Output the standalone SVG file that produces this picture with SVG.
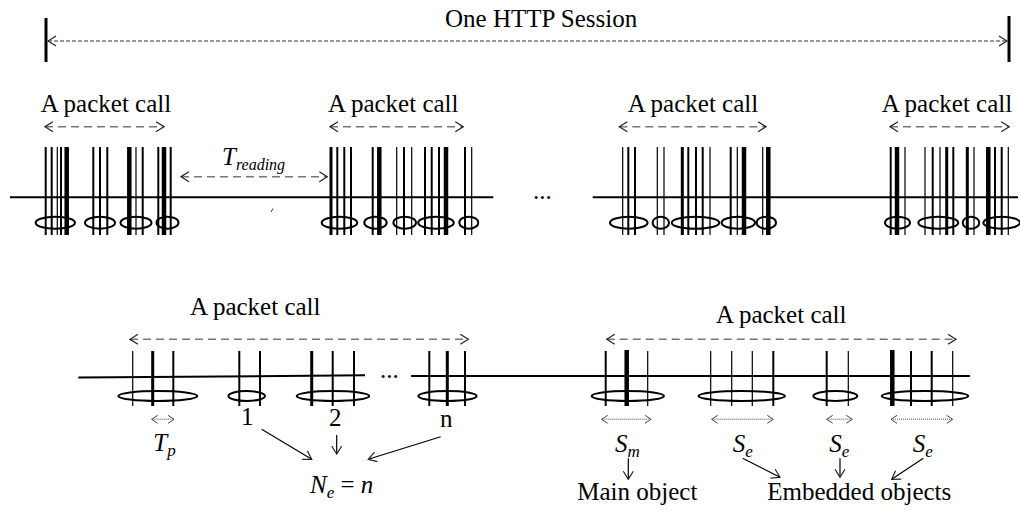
<svg xmlns="http://www.w3.org/2000/svg" width="1020" height="511" viewBox="0 0 1020 511">
  <defs>
    <marker id="head" viewBox="0 0 10 12" refX="9" refY="6" markerWidth="10" markerHeight="12" markerUnits="userSpaceOnUse" orient="auto-start-reverse">
      <path d="M1,1 L9,6 L1,11" fill="none" stroke="#222" stroke-width="1.2"/>
    </marker>
    <marker id="headSmall" viewBox="0 0 8 10" refX="7" refY="5" markerWidth="8" markerHeight="10" markerUnits="userSpaceOnUse" orient="auto-start-reverse">
      <path d="M1,1 L7,5 L1,9" fill="none" stroke="#444" stroke-width="1"/>
    </marker>
  </defs>
  <style>
    .txt { font-family: "Liberation Serif", "Times New Roman", serif; font-size: 25px; fill: #000; }
    .it { font-style: italic; }
    .axis { stroke: #000; stroke-width: 2; fill: none; }
    .b1 { stroke: #000; stroke-width: 1.2; }
    .b2 { stroke: #000; stroke-width: 2; }
    .b3 { stroke: #000; stroke-width: 3; }
    .b4 { stroke: #000; stroke-width: 4.5; }
    .ring { stroke: #000; stroke-width: 2; fill: none; }
    .span { stroke: #777; stroke-width: 1.5; stroke-dasharray: 8 5; fill: none; marker-start: url(#head); marker-end: url(#head); }
    .session { stroke: #333; stroke-width: 1; stroke-dasharray: 4 2; fill: none; marker-start: url(#head); marker-end: url(#head); }
    .size { stroke: #888; stroke-width: 1.5; stroke-dasharray: 1 1; fill: none; marker-start: url(#headSmall); marker-end: url(#headSmall); }
    .ptr { stroke: #000; stroke-width: 1.2; fill: none; marker-end: url(#head); }
  </style>

  <!-- whole session -->
  <g id="session">
    <line x1="46" y1="18" x2="46" y2="62" stroke="#000" stroke-width="3"/>
    <line x1="1009" y1="16" x2="1009" y2="62" stroke="#000" stroke-width="3"/>
    <text class="txt" x="445" y="27">One HTTP Session</text>
  </g>

  <!-- top timeline -->
  <g id="timeline-top">
    <line class="axis" x1="10" y1="197.3" x2="493.3" y2="197.3"/>
    <line class="axis" x1="592.7" y1="197.3" x2="1018" y2="197.3"/>
    <text class="txt" x="533" y="199">...</text>
    <line x1="271" y1="212" x2="273" y2="208.5" stroke="#000" stroke-width="0.8"/>
  </g>

  <!-- packet call 1 -->
  <g id="call-1">
    <text class="txt" x="40.7" y="111.7">A packet call</text>
    <line class="b2" x1="45.7" y1="147" x2="45.7" y2="235"/>
    <line class="b2" x1="51.7" y1="147" x2="51.7" y2="235"/>
    <line class="b1" x1="57.3" y1="147" x2="57.3" y2="235"/>
    <line class="b2" x1="61" y1="147" x2="61" y2="235"/>
    <line class="b4" x1="66.7" y1="147" x2="66.7" y2="235"/>
    <ellipse class="ring" cx="55.3" cy="222.7" rx="19.7" ry="6"/>
    <line class="b2" x1="93.3" y1="147" x2="93.3" y2="235"/>
    <line class="b2" x1="100" y1="147" x2="100" y2="235"/>
    <line class="b2" x1="107.3" y1="147" x2="107.3" y2="235"/>
    <ellipse class="ring" cx="100" cy="222.7" rx="15" ry="6"/>
    <line class="b4" x1="129.3" y1="147" x2="129.3" y2="235"/>
    <line class="b1" x1="136" y1="147" x2="136" y2="235"/>
    <line class="b2" x1="142.7" y1="147" x2="142.7" y2="235"/>
    <ellipse class="ring" cx="136" cy="222.7" rx="15.5" ry="6"/>
    <line class="b2" x1="158.3" y1="147" x2="158.3" y2="235"/>
    <line class="b4" x1="164" y1="147" x2="164" y2="235"/>
    <line class="b2" x1="170.7" y1="147" x2="170.7" y2="235"/>
    <ellipse class="ring" cx="167.5" cy="222.7" rx="11" ry="6"/>
  </g>

  <!-- reading time -->
  <g id="reading">
    <text class="txt it" x="222" y="165" font-size="22">T<tspan font-size="16" dy="5">reading</tspan></text>
  </g>

  <!-- packet call 2 -->
  <g id="call-2">
    <text class="txt" x="328" y="111.7">A packet call</text>
    <line class="b3" x1="331" y1="147" x2="331" y2="235"/>
    <line class="b2" x1="337.3" y1="147" x2="337.3" y2="235"/>
    <line class="b2" x1="344.3" y1="147" x2="344.3" y2="235"/>
    <line class="b2" x1="351" y1="147" x2="351" y2="235"/>
    <ellipse class="ring" cx="339.5" cy="222.7" rx="17.8" ry="6"/>
    <line class="b2" x1="372.7" y1="147" x2="372.7" y2="235"/>
    <line class="b4" x1="379.3" y1="147" x2="379.3" y2="235"/>
    <ellipse class="ring" cx="375.5" cy="222.7" rx="11.2" ry="6"/>
    <line class="b1" x1="396.7" y1="147" x2="396.7" y2="235"/>
    <line class="b2" x1="404" y1="147" x2="404" y2="235"/>
    <line class="b1" x1="411.7" y1="147" x2="411.7" y2="235"/>
    <ellipse class="ring" cx="404.7" cy="222.7" rx="11.3" ry="6"/>
    <line class="b2" x1="425" y1="147" x2="425" y2="235"/>
    <line class="b2" x1="431.7" y1="147" x2="431.7" y2="235"/>
    <line class="b2" x1="439" y1="147" x2="439" y2="235"/>
    <line class="b4" x1="446" y1="147" x2="446" y2="235"/>
    <ellipse class="ring" cx="436" cy="222.7" rx="17.8" ry="6"/>
    <line class="b2" x1="465" y1="147" x2="465" y2="235"/>
    <line class="b1" x1="471.7" y1="147" x2="471.7" y2="235"/>
    <ellipse class="ring" cx="468.8" cy="222.7" rx="9.5" ry="6"/>
  </g>

  <!-- packet call 3 -->
  <g id="call-3">
    <text class="txt" x="627.7" y="111.7">A packet call</text>
    <line class="b1" x1="622.7" y1="147" x2="622.7" y2="235"/>
    <line class="b2" x1="628.3" y1="147" x2="628.3" y2="235"/>
    <line class="b2" x1="635" y1="147" x2="635" y2="235"/>
    <ellipse class="ring" cx="628.8" cy="222.7" rx="18.8" ry="6"/>
    <line class="b1" x1="657.3" y1="147" x2="657.3" y2="235"/>
    <line class="b1" x1="664" y1="147" x2="664" y2="235"/>
    <ellipse class="ring" cx="660.8" cy="222.7" rx="8.2" ry="6"/>
    <line class="b3" x1="682.3" y1="147" x2="682.3" y2="235"/>
    <line class="b2" x1="688.3" y1="147" x2="688.3" y2="235"/>
    <line class="b2" x1="696" y1="147" x2="696" y2="235"/>
    <line class="b2" x1="702.7" y1="147" x2="702.7" y2="235"/>
    <line class="b1" x1="710" y1="147" x2="710" y2="235"/>
    <ellipse class="ring" cx="695.5" cy="222.7" rx="23.8" ry="6"/>
    <line class="b2" x1="730.7" y1="147" x2="730.7" y2="235"/>
    <line class="b1" x1="737.3" y1="147" x2="737.3" y2="235"/>
    <line class="b4" x1="744" y1="147" x2="744" y2="235"/>
    <ellipse class="ring" cx="738.3" cy="222.7" rx="16.7" ry="6"/>
    <line class="b1" x1="762.7" y1="147" x2="762.7" y2="235"/>
    <line class="b4" x1="768.3" y1="147" x2="768.3" y2="235"/>
    <ellipse class="ring" cx="766.3" cy="222.7" rx="9.7" ry="6"/>
  </g>

  <!-- packet call 4 -->
  <g id="call-4">
    <text class="txt" x="881.7" y="111.7">A packet call</text>
    <line class="b2" x1="890.7" y1="147" x2="890.7" y2="235"/>
    <line class="b4" x1="897" y1="147" x2="897" y2="235"/>
    <line class="b1" x1="905" y1="147" x2="905" y2="235"/>
    <ellipse class="ring" cx="897.5" cy="222.7" rx="12.5" ry="6"/>
    <line class="b1" x1="925" y1="147" x2="925" y2="235"/>
    <line class="b2" x1="932.7" y1="147" x2="932.7" y2="235"/>
    <line class="b1" x1="940" y1="147" x2="940" y2="235"/>
    <line class="b3" x1="946.7" y1="147" x2="946.7" y2="235"/>
    <line class="b2" x1="953.3" y1="147" x2="953.3" y2="235"/>
    <ellipse class="ring" cx="938.3" cy="222.7" rx="20" ry="6"/>
    <line class="b3" x1="967.3" y1="147" x2="967.3" y2="235"/>
    <line class="b1" x1="974" y1="147" x2="974" y2="235"/>
    <ellipse class="ring" cx="971" cy="222.7" rx="8.3" ry="6"/>
    <line class="b4" x1="988.3" y1="147" x2="988.3" y2="235"/>
    <line class="b2" x1="995" y1="147" x2="995" y2="235"/>
    <line class="b2" x1="1001.7" y1="147" x2="1001.7" y2="235"/>
    <line class="b1" x1="1008.3" y1="147" x2="1008.3" y2="235"/>
    <ellipse class="ring" cx="1001.7" cy="222.7" rx="18.3" ry="6"/>
  </g>

  <!-- bottom timeline: detail of one packet call (counts) -->
  <g id="detail-count">
    <line class="axis" x1="78.3" y1="377.5" x2="365" y2="375.3"/>
    <text class="txt" x="380" y="378">...</text>
    <text class="txt" x="190" y="315">A packet call</text>
    <line class="b1" x1="132.7" y1="351" x2="132.7" y2="406"/>
    <line class="b3" x1="152.7" y1="351" x2="152.7" y2="406"/>
    <line class="b2" x1="173.3" y1="351" x2="173.3" y2="406"/>
    <ellipse class="ring" cx="157.8" cy="396" rx="39.5" ry="5"/>
    <line class="b2" x1="239.3" y1="351" x2="239.3" y2="406"/>
    <line class="b2" x1="260" y1="351" x2="260" y2="406"/>
    <ellipse class="ring" cx="246.7" cy="396" rx="18.3" ry="5"/>
    <line class="b3" x1="311.7" y1="351" x2="311.7" y2="406"/>
    <line class="b2" x1="332.7" y1="351" x2="332.7" y2="406"/>
    <line class="b2" x1="354" y1="351" x2="354" y2="406"/>
    <ellipse class="ring" cx="333" cy="396" rx="36.3" ry="5"/>
    <line class="b2" x1="429.3" y1="351" x2="429.3" y2="406"/>
    <line class="b3" x1="447.3" y1="351" x2="447.3" y2="406"/>
    <line class="b2" x1="465" y1="351" x2="465" y2="406"/>
    <ellipse class="ring" cx="447.5" cy="396" rx="29.2" ry="5"/>
    <text class="txt it" x="153.3" y="451">T<tspan font-size="17" dy="5">p</tspan></text>
    <text class="txt" x="241" y="424.5" font-size="20">1</text>
    <text class="txt" x="329" y="426" font-size="20">2</text>
    <text class="txt" x="440" y="427" font-size="20">n</text>
    <text class="txt it" x="310" y="492.7">N<tspan font-size="17" dy="5">e</tspan><tspan dy="-5" font-style="normal"> = </tspan>n</text>
  </g>

  <!-- bottom timeline: detail of one packet call (sizes) -->
  <g id="detail-size">
    <line class="axis" x1="411" y1="376" x2="970" y2="376"/>
    <text class="txt" x="716" y="323">A packet call</text>
    <line class="b2" x1="605.7" y1="351" x2="605.7" y2="406"/>
    <line class="b4" x1="626.7" y1="350" x2="626.7" y2="406"/>
    <line class="b1" x1="647.7" y1="351" x2="647.7" y2="406"/>
    <ellipse class="ring" cx="627.8" cy="396" rx="36.2" ry="5"/>
    <line class="b1" x1="710.7" y1="351" x2="710.7" y2="406"/>
    <line class="b1" x1="731.7" y1="351" x2="731.7" y2="406"/>
    <line class="b1" x1="752.3" y1="351" x2="752.3" y2="406"/>
    <line class="b2" x1="773.3" y1="351" x2="773.3" y2="406"/>
    <ellipse class="ring" cx="741.7" cy="396" rx="43.3" ry="5"/>
    <line class="b2" x1="826.7" y1="351" x2="826.7" y2="406"/>
    <line class="b1" x1="848.3" y1="351" x2="848.3" y2="406"/>
    <ellipse class="ring" cx="835.3" cy="396" rx="22" ry="5"/>
    <line class="b4" x1="892.3" y1="350" x2="892.3" y2="406"/>
    <line class="b2" x1="911" y1="351" x2="911" y2="406"/>
    <line class="b2" x1="931.7" y1="351" x2="931.7" y2="406"/>
    <line class="b1" x1="952.7" y1="351" x2="952.7" y2="406"/>
    <ellipse class="ring" cx="925" cy="396" rx="43.3" ry="5"/>
    <text class="txt it" x="615" y="451.7">S<tspan font-size="17" dy="5">m</tspan></text>
    <text class="txt it" x="732.7" y="451.7">S<tspan font-size="17" dy="5">e</tspan></text>
    <text class="txt it" x="829.3" y="451.7">S<tspan font-size="17" dy="5">e</tspan></text>
    <text class="txt it" x="912.7" y="451.7">S<tspan font-size="17" dy="5">e</tspan></text>
    <text class="txt" x="577.3" y="500">Main object</text>
    <text class="txt" x="767.3" y="500">Embedded objects</text>
  </g>

  <!-- connectors -->
  <g id="connectors">
    <line class="session" x1="48" y1="41" x2="1007" y2="41"/>
    <line class="span" x1="45" y1="126.7" x2="164" y2="126.7"/>
    <line class="span" x1="330" y1="126.7" x2="463.3" y2="126.7"/>
    <line class="span" x1="619.3" y1="126.7" x2="766" y2="126.7"/>
    <line class="span" x1="890" y1="126.7" x2="1009.3" y2="126.7"/>
    <line class="span" x1="181" y1="176.7" x2="327.3" y2="176.7"/>
    <line class="span" x1="130" y1="339.3" x2="468.3" y2="339.3"/>
    <line class="span" x1="606.7" y1="339.3" x2="956" y2="339.3"/>
    <line class="size" x1="151.7" y1="419.3" x2="174" y2="419.3"/>
    <line class="size" x1="601.7" y1="419.3" x2="651" y2="419.3"/>
    <line class="size" x1="711.7" y1="419.3" x2="773.3" y2="419.3"/>
    <line class="size" x1="826.7" y1="419.3" x2="852.3" y2="419.3"/>
    <line class="size" x1="891" y1="419.3" x2="952.7" y2="419.3"/>
    <line class="ptr" x1="261.7" y1="429.3" x2="311.7" y2="459.3"/>
    <line class="ptr" x1="336.7" y1="435" x2="336.7" y2="454"/>
    <line class="ptr" x1="440.7" y1="436.7" x2="368.3" y2="459.3"/>
    <line class="ptr" x1="628.3" y1="458.3" x2="628.3" y2="479.3"/>
    <line class="ptr" x1="742.7" y1="458.3" x2="780" y2="477.3"/>
    <line class="ptr" x1="840" y1="458.3" x2="840" y2="477.3"/>
    <line class="ptr" x1="923.3" y1="458.3" x2="891.7" y2="479.3"/>
  </g>
</svg>
